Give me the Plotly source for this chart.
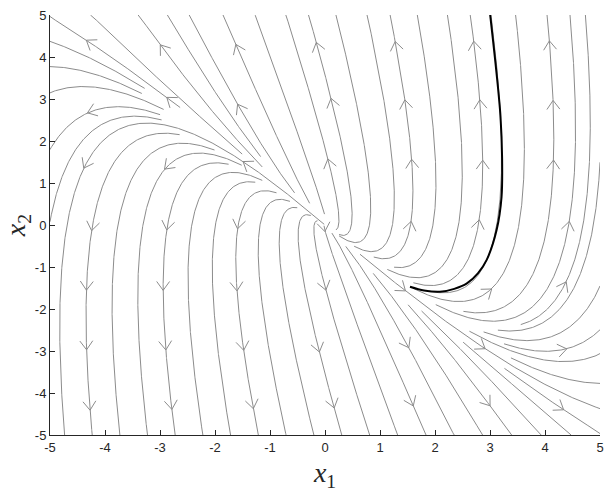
import numpy as np
import plotly.graph_objects as go

# linear system x' = A x behind the grey stream lines
a_row1 = [0.10, -0.20]
a_row2 = [0.75, 1.00]

# black trajectory
traj_x = [1.545, 1.8, 2.09, 2.35, 2.58, 2.78, 2.94, 3.12, 3.21, 3.22, 3.19, 3.12, 3.0]
traj_y = [-1.47, -1.56, -1.59, -1.52, -1.39, -1.15, -0.83, -0.12, 0.67, 1.6, 2.6, 3.6, 5.04]

tick_vals = [-5, -4, -3, -2, -1, 0, 1, 2, 3, 4, 5]
tick_text = ["-5", "-4", "-3", "-2", "-1", "0", "1", "2", "3", "4", "5"]

A = np.array([a_row1, a_row2])


def field(x, y):
    return A[0, 0] * x + A[0, 1] * y, A[1, 0] * x + A[1, 1] * y


# streamslice-like seeding: coarse start grid, fine occupancy grid
lo, hi = -5.0, 5.0
NS, NE, NA = 20, 80, 7
cs = (hi - lo) / NS
ce = (hi - lo) / NE
start_vis = np.zeros((NS, NS), bool)
owner = -np.ones((NE, NE), int)
h = 0.02


def trace(x0, y0, sgn, lid):
    pts = [(x0, y0)]
    x, y = x0, y0
    for k in range(3000):
        u, v = field(x, y)
        n = np.hypot(u, v)
        if n < 1e-9 or np.hypot(x, y) < 0.04:
            break
        xm = x + sgn * 0.5 * h * u / n
        ym = y + sgn * 0.5 * h * v / n
        u, v = field(xm, ym)
        n = np.hypot(u, v)
        xn = x + sgn * h * u / n
        yn = y + sgn * h * v / n
        if not (lo <= xn <= hi and lo <= yn <= hi):
            pts.append((min(max(xn, lo), hi), min(max(yn, lo), hi)))
            break
        x, y = xn, yn
        i = min(int((y - lo) / ce), NE - 1)
        j = min(int((x - lo) / ce), NE - 1)
        if owner[i, j] != -1 and owner[i, j] != lid:
            break
        owner[i, j] = lid
        start_vis[min(int((y - lo) / cs), NS - 1), min(int((x - lo) / cs), NS - 1)] = True
        pts.append((x, y))
    return pts


lx, ly = [], []
allpts = []
lid = 0
for i in range(NS):
    for j in range(NS):
        if start_vis[i, j]:
            continue
        x0 = lo + (j + 0.5) * cs
        y0 = lo + (i + 0.5) * cs
        start_vis[i, j] = True
        fwd = trace(x0, y0, 1, lid)
        bwd = trace(x0, y0, -1, lid)
        pts = bwd[::-1] + fwd[1:]
        lid += 1
        if len(pts) < 3:
            continue
        lx += [p[0] for p in pts] + [None]
        ly += [p[1] for p in pts] + [None]
        allpts += pts[1:-1]

# open arrowheads on a coarse lattice, snapped to the nearest stream line
allpts = np.array(allpts)
ax, ay = [], []
for i in range(NA):
    for j in range(NA):
        gx = lo + (j + 0.5) * (hi - lo) / NA
        gy = lo + (i + 0.5) * (hi - lo) / NA
        dist = np.hypot((allpts[:, 0] - gx) * 55.0, (allpts[:, 1] - gy) * 42.0)
        x0, y0 = allpts[np.argmin(dist)]
        u, v = field(x0, y0)
        d = np.array([u * 55.0, -v * 42.0])
        d = d / np.linalg.norm(d)
        # tip sits a little ahead of the snapped point
        tx = x0 + 5 * d[0] / 55.0
        ty = y0 - 5 * d[1] / 42.0
        for ang in (np.radians(36), -np.radians(36)):
            r = np.array([d[0] * np.cos(ang) - d[1] * np.sin(ang),
                          d[0] * np.sin(ang) + d[1] * np.cos(ang)])
            ax += [tx - 11 * r[0] / 55.0, tx, None]
            ay += [ty + 11 * r[1] / 42.0, ty, None]

fig = go.Figure()
fig.add_trace(go.Scatter(x=lx, y=ly, mode="lines",
                         line=dict(color="#8c8c8c", width=1), hoverinfo="skip"))
fig.add_trace(go.Scatter(x=ax, y=ay, mode="lines",
                         line=dict(color="#8c8c8c", width=1), hoverinfo="skip"))
fig.add_trace(go.Scatter(x=traj_x, y=traj_y, mode="lines",
                         line=dict(color="black", width=2, shape="spline", smoothing=0.9),
                         hoverinfo="skip"))

axis_style = dict(
    range=[-5, 5],
    tickvals=tick_vals,
    ticktext=tick_text,
    ticks="inside",
    ticklen=5,
    tickcolor="#262626",
    showline=True,
    linecolor="#262626",
    linewidth=1,
    showgrid=False,
    zeroline=False,
    automargin=False,
    tickfont=dict(family="Liberation Sans, Arial", size=13, color="#262626"),
)

fig.update_layout(
    width=612,
    height=499,
    margin=dict(l=50, r=12, t=15, b=64),
    plot_bgcolor="white",
    paper_bgcolor="white",
    showlegend=False,
    xaxis=dict(axis_style, title=dict(text="<i>x</i><sub>1</sub>", standoff=8,
               font=dict(family="Liberation Serif", size=28, color="#262626"))),
    yaxis=dict(axis_style, title=dict(text="<i>x</i><sub>2</sub>", standoff=6,
               font=dict(family="Liberation Serif", size=28, color="#262626"))),
)

fig.write_html("out.html", config={"displayModeBar": False},
               post_script="document.body.style.margin='0';")
